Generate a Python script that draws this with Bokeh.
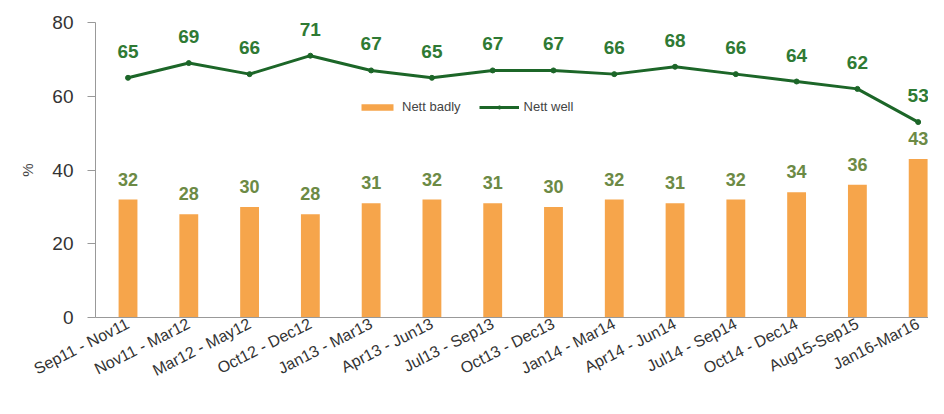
from bokeh.plotting import figure
from bokeh.models import Range1d, FixedTicker, ColumnDataSource, LabelSet, Legend, LegendItem
from bokeh.embed import file_html
from bokeh.resources import INLINE
from bokeh.core.properties import value

categories = ["Sep11 - Nov11", "Nov11 - Mar12", "Mar12 - May12", "Oct12 - Dec12",
              "Jan13 - Mar13", "Apr13 - Jun13", "Jul13 - Sep13", "Oct13 - Dec13",
              "Jan14 - Mar14", "Apr14 - Jun14", "Jul14 - Sep14", "Oct14 - Dec14",
              "Aug15-Sep15", "Jan16-Mar16"]
nett_badly = [32, 28, 30, 28, 31, 32, 31, 30, 32, 31, 32, 34, 36, 43]
nett_well = [65, 69, 66, 71, 67, 65, 67, 67, 66, 68, 66, 64, 62, 53]
y_ticks = [0, 20, 40, 60, 80]

idx = list(range(len(categories)))
src = ColumnDataSource(dict(x=idx, badly=nett_badly, well=nett_well,
                            badly_txt=[str(v) for v in nett_badly],
                            well_txt=[str(v) for v in nett_well]))

p = figure(width=928, height=398, output_backend="svg", toolbar_location=None,
           x_range=Range1d(-0.535, 13.17), y_range=Range1d(0, 80),
           min_border_left=95, min_border_right=0, min_border_top=22, min_border_bottom=81)
p.outline_line_color = None
p.grid.visible = False
p.background_fill_color = "white"

bars = p.vbar(x="x", top="badly", width=0.31, bottom=0, source=src,
              fill_color="#F6A54B", line_color=None)
line = p.line(x="x", y="well", source=src, line_color="#1C6628", line_width=3)
pts = p.scatter(x="x", y="well", source=src, size=5, marker="circle",
                fill_color="#1C6628", line_color="#1C6628")

p.add_layout(LabelSet(x="x", y="badly", text="badly_txt", source=src,
                      text_align="center", text_baseline="bottom", y_offset=14,
                      text_font=value("Liberation Sans"), text_font_style="bold",
                      text_font_size="18px", text_color="#6C8A45"))
p.add_layout(LabelSet(x="x", y="well", text="well_txt", source=src,
                      text_align="center", text_baseline="bottom", y_offset=20,
                      text_font=value("Liberation Sans"), text_font_style="bold",
                      text_font_size="19px", text_color="#2F7A34"))

# axes
p.yaxis.ticker = FixedTicker(ticks=y_ticks)
p.yaxis.axis_label = "%"
p.yaxis.axis_label_text_font = "Liberation Sans"
p.yaxis.axis_label_text_font_style = "normal"
p.yaxis.axis_label_text_font_size = "15px"
p.yaxis.axis_label_text_color = "#444444"
p.yaxis.axis_label_standoff = 13
p.yaxis.major_label_text_font = "Liberation Sans"
p.yaxis.major_label_text_font_size = "19px"
p.yaxis.major_label_text_color = "#333333"
p.yaxis.major_label_standoff = 14
p.yaxis.axis_line_color = "#999999"
p.yaxis.major_tick_line_color = "#999999"
p.yaxis.major_tick_out = 8
p.yaxis.major_tick_in = 0
p.yaxis.minor_tick_line_color = None

p.xaxis.ticker = FixedTicker(ticks=idx)
p.xaxis.major_label_overrides = {i: c for i, c in enumerate(categories)}
p.xaxis.major_label_orientation = 0.47
p.xaxis.major_label_text_font = "Liberation Sans"
p.xaxis.major_label_text_font_size = "16px"
p.xaxis.major_label_text_color = "#333333"
p.xaxis.major_label_standoff = 5
p.xaxis.axis_line_color = "#999999"
p.xaxis.major_tick_line_color = None
p.xaxis.minor_tick_line_color = None
p.xaxis.major_tick_out = 0
p.xaxis.major_tick_in = 0

legend = Legend(items=[LegendItem(label="Nett badly", renderers=[bars]),
                       LegendItem(label="Nett well", renderers=[line, pts])],
                location=(262, 203), orientation="horizontal",
                background_fill_alpha=0, border_line_color=None,
                label_text_font="Liberation Sans", label_text_font_size="13px",
                label_text_color="#444444", glyph_width=40, glyph_height=8,
                spacing=18, label_standoff=5, padding=0, margin=0)
p.add_layout(legend)

open("out.html", "w").write(file_html(p, INLINE))
